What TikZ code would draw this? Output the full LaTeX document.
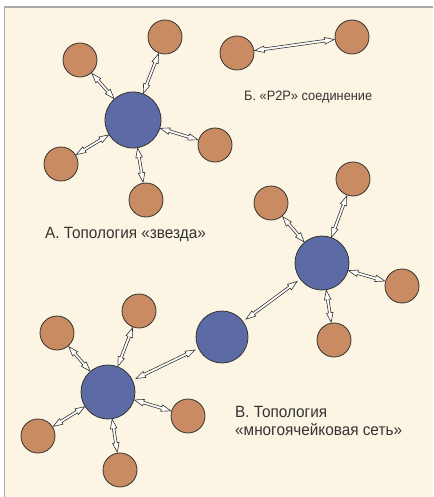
\documentclass[tikz,border=0pt]{standalone}
\usepackage{fontspec}
\setmainfont[FakeStretch=0.94]{Liberation Sans}
\usetikzlibrary{calc}
\definecolor{bg}{HTML}{FDF5E4}
\definecolor{frame}{HTML}{A8A8A8}
\definecolor{hub}{HTML}{5C6AA6}
\definecolor{leaf}{HTML}{C98B62}
\definecolor{ink}{HTML}{333333}
\tikzset{
 leafnode/.style={circle, draw=ink, line width=0.8pt, fill=leaf, minimum size=34pt, inner sep=0pt},
 hubnode/.style={circle, draw=ink, line width=0.8pt, fill=hub, minimum size=#1, inner sep=0pt},
 arrowbody/.style={draw=ink, fill=white, line width=0.6pt, line join=miter},
 caption/.style={font=\fontsize{16.3}{19}\selectfont, text=ink, inner sep=0pt, anchor=base west},
}
% #1,#2 nodes; #3,#4 distances from centres to the tips
\newcommand\darr[4]{%
 \path ($(#1)!#3!(#2)$) coordinate (s) ($(#2)!#4!(#1)$) coordinate (e);
 \path ($(s)!9.5pt!(e)$) coordinate (sh) ($(e)!9.5pt!(s)$) coordinate (eh);
 \draw[arrowbody] (s) -- ($(sh)!3.3pt!90:(e)$) -- ($(sh)!1.3pt!90:(e)$)
   -- ($(eh)!1.3pt!-90:(s)$) -- ($(eh)!3.3pt!-90:(s)$) -- (e)
   -- ($(eh)!3.3pt!90:(s)$) -- ($(eh)!1.3pt!90:(s)$)
   -- ($(sh)!1.3pt!-90:(e)$) -- ($(sh)!3.3pt!-90:(e)$) -- cycle;}
\begin{document}
\begin{tikzpicture}[x=1pt,y=-1pt]
\useasboundingbox (0,0) rectangle (433,497);
\fill[white] (0,0) rectangle (433,497);
\fill[bg] (5,7.5) rectangle (433,497);
\draw[frame, line width=1.2pt] (4.6,497) -- (4.6,7) -- (433,7);

% A: star
\node[hubnode=56pt] (ha) at (133,120) {};
\node[leafnode] (a1) at (80,60) {};
\node[leafnode] (a2) at (165,37) {};
\node[leafnode] (a3) at (215,145) {};
\node[leafnode] (a4) at (146,200) {};
\node[leafnode] (a5) at (61,164) {};
\foreach \l in {a1,a2,a3,a4,a5} {\darr{ha}{\l}{28.5pt}{18pt}}
\node[caption] (ta) at (45,238) {А. Топология «звезда»};

% Б: P2P
\node[leafnode] (p1) at (237,53) {};
\node[leafnode] (p2) at (352,37) {};
\darr{p1}{p2}{18pt}{18pt}
\node[caption, font=\fontsize{13.6}{17}\selectfont] (tb) at (244,100.5) {Б. «P2P» соединение};

% В: mesh
\node[hubnode=54pt] (hb) at (322,263) {};
\node[leafnode] (b1) at (271,203) {};
\node[leafnode] (b2) at (353,179) {};
\node[leafnode] (b3) at (402,286) {};
\node[leafnode] (b4) at (334,340) {};
\foreach \l in {b1,b2,b3,b4} {\darr{hb}{\l}{27.5pt}{18pt}}
\node[hubnode=52pt] (hm) at (222,337) {};
\node[hubnode=54pt] (hc) at (108,392) {};
\node[leafnode] (c1) at (57,333) {};
\node[leafnode] (c2) at (139,311) {};
\node[leafnode] (c3) at (188,416) {};
\node[leafnode] (c4) at (120,470) {};
\node[leafnode] (c5) at (38,436) {};
\foreach \l in {c1,c2,c3,c4,c5} {\darr{hc}{\l}{27.5pt}{18pt}}
\darr{hm}{hb}{30pt}{31pt}
\darr{hc}{hm}{31pt}{30pt}
\node[caption] (tc1) at (235,417.3) {В. Топология};
\node[caption] (tc2) at (235,435.5) {«многоячейковая сеть»};
\end{tikzpicture}
\end{document}
